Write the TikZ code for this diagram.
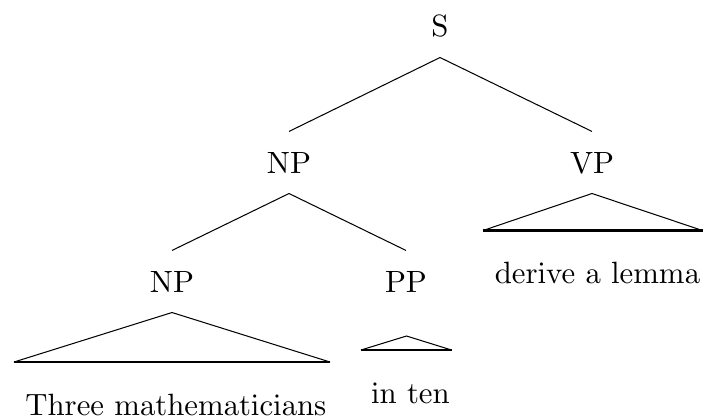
\documentclass[tikz,border=0pt]{standalone}
\font\treefont=cmr10 at 12pt
\begin{document}
\begin{tikzpicture}[x=0.39pt,y=-0.39pt,
  font=\treefont,
  cat/.style={inner xsep=1pt, inner ysep=7.8pt, anchor=base},
  leaf/.style={inner sep=0pt, anchor=base},
  branch/.style={line width=0.4pt},
  roofbase/.style={line width=0.85pt}]
\useasboundingbox (0,0) rectangle (704,418);
% categories
\node[cat] (S)   at (440,37)  {S};
\node[cat] (NP)  at (289,173) {NP};
\node[cat] (VP)  at (592,173) {VP};
\node[cat] (NPa) at (172,292) {NP};
\node[cat] (PP)  at (406,292) {PP};
% leaves
\node[leaf] (l1) at (176,415) {Three mathematicians};
\node[leaf] (l2) at (410.5,403) {in ten};
\node[leaf] (l3) at (597.5,283) {derive a lemma};
% roof coordinates
\coordinate (npL) at (14,362);
\coordinate (npR) at (330,362);
\coordinate (ppT) at (406.5,336);
\coordinate (ppL) at (361,350);
\coordinate (ppR) at (451.5,350);
\coordinate (vpL) at (483,230.5);
\coordinate (vpR) at (702.5,230.5);
% branches
\draw[branch] (S.south) -- (NP.north);
\draw[branch] (S.south) -- (VP.north);
\draw[branch] (NP.south) -- (NPa.north);
\draw[branch] (NP.south) -- (PP.north);
% roofs
\draw[branch] (npL) -- (NPa.south) -- (npR);
\draw[roofbase] (npL) -- (npR);
\draw[branch] (ppL) -- (ppT) -- (ppR);
\draw[roofbase] (ppL) -- (ppR);
\draw[branch] (vpL) -- (VP.south) -- (vpR);
\draw[roofbase] (vpL) -- (vpR);
\end{tikzpicture}
\end{document}
